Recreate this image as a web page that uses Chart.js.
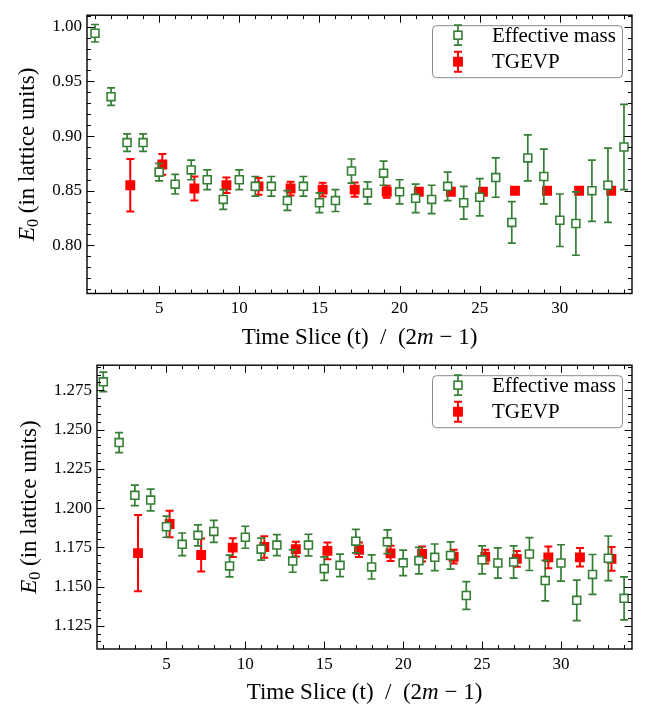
<!DOCTYPE html>
<html>
<head>
<meta charset="utf-8">
<script src="https://cdn.jsdelivr.net/npm/chart.js@4.4.1/dist/chart.umd.min.js"></script>
<style>
  body { margin: 0; background: #fff; }
  canvas { display: block; }
</style>
</head>
<body>
<canvas id="topChart" width="657" height="350"></canvas>
<canvas id="bottomChart" width="657" height="359"></canvas>
<script>
/* Two-panel E0 plateau plot: effective mass vs TGEVP */

// ─── Data: top panel ─────────────────────────────────────────────────────
const timeSlices = [1, 2, 3, 4, 5, 6, 7, 8, 9, 10, 11, 12, 13, 14, 15, 16, 17,
                    18, 19, 20, 21, 22, 23, 24, 25, 26, 27, 28, 29, 30, 31, 32, 33, 34];
const tgevpSlices = [3.2, 5.2, 7.2, 9.2, 11.2, 13.2, 15.2, 17.2, 19.2, 21.2, 23.2,
                     25.2, 27.2, 29.2, 31.2, 33.2];

const effMassTop = [0.994, 0.936, 0.894, 0.894, 0.867, 0.856, 0.869, 0.860, 0.842, 0.860,
                    0.854, 0.854, 0.841, 0.854, 0.839, 0.841, 0.868, 0.848, 0.866, 0.849,
                    0.843, 0.842, 0.854, 0.839, 0.844, 0.862, 0.821, 0.880, 0.863, 0.823,
                    0.820, 0.850, 0.855, 0.890];
const effMassErrTop = [0.008, 0.008, 0.008, 0.008, 0.008, 0.009, 0.009, 0.009, 0.009, 0.009,
                       0.009, 0.009, 0.009, 0.009, 0.009, 0.010, 0.011, 0.010, 0.011, 0.011,
                       0.013, 0.013, 0.013, 0.015, 0.017, 0.018, 0.019, 0.021, 0.025, 0.024,
                       0.029, 0.028, 0.034, 0.039];
const tgevpTop = [0.855, 0.874, 0.852, 0.855, 0.854, 0.852, 0.851, 0.851, 0.849, 0.849,
                  0.849, 0.849, 0.850, 0.850, 0.850, 0.850];
const tgevpErrTop = [0.024, 0.0095, 0.011, 0.007, 0.0077, 0.0063, 0.0063, 0.0066, 0.0055,
                     0.003, 0.003, 0.002, 0.002, 0.002, 0.002, 0.002];

// ─── Data: bottom panel ──────────────────────────────────────────────────
const effMassBot = [1.2804, 1.2417, 1.2081, 1.2051, 1.1881, 1.1769, 1.1826, 1.1851, 1.1631,
                    1.1814, 1.1738, 1.1764, 1.1662, 1.1764, 1.1614, 1.1635, 1.1789, 1.1625,
                    1.1785, 1.1651, 1.1665, 1.1686, 1.1698, 1.1443, 1.1670, 1.1650, 1.1656,
                    1.1707, 1.1538, 1.1650, 1.1412, 1.1577, 1.1680, 1.1425];
const effMassErrBot = [0.0062, 0.0064, 0.0065, 0.0069, 0.0067, 0.0072, 0.0067, 0.0070, 0.0069,
                       0.0070, 0.0070, 0.0067, 0.0071, 0.0069, 0.0075, 0.0072, 0.0075, 0.0077,
                       0.0076, 0.0081, 0.0084, 0.0085, 0.0087, 0.0088, 0.0089, 0.0096, 0.0103,
                       0.0105, 0.0129, 0.0116, 0.0129, 0.0127, 0.0142, 0.0137];
const tgevpBot = [1.1713, 1.1898, 1.1701, 1.1748, 1.1752, 1.1738, 1.1727, 1.1734, 1.1711,
                  1.1707, 1.1690, 1.1690, 1.1676, 1.1686, 1.1686, 1.1676];
const tgevpErrBot = [0.0243, 0.0084, 0.0105, 0.0060, 0.0069, 0.0047, 0.0053, 0.0046, 0.0048,
                     0.0048, 0.0044, 0.0044, 0.0050, 0.0069, 0.0059, 0.0076];

// ─── Tick labels ─────────────────────────────────────────────────────────
const xTickLabels = [5, 10, 15, 20, 25, 30];
const yTicksTop = [0.80, 0.85, 0.90, 0.95, 1.00];
const yTicksBot = [1.125, 1.150, 1.175, 1.200, 1.225, 1.250, 1.275];

const SERIF = "'Liberation Serif', 'DejaVu Serif', serif";
const GREEN = '#357f35';
const RED = '#ff0000';

const steps = (from, to, step) => {
    const out = [];
    for (let v = from; v <= to + step / 2; v += step) out.push(+v.toFixed(4));
    return out;
};

// ─── Error bars, drawn under each dataset's markers ──────────────────────
const errorBarPlugin = {
    id: 'errorBars',
    beforeDatasetDraw(chart, args) {
        const ds = chart.data.datasets[args.index];
        if (!ds.errors) return;
        const { x, y } = chart.scales;
        const ctx = chart.ctx;
        ctx.save();
        ctx.strokeStyle = ds.borderColor;
        ctx.lineWidth = ds.errLineWidth;
        ctx.beginPath();
        ds.data.forEach((p, i) => {
            const px = x.getPixelForValue(p.x);
            const hi = y.getPixelForValue(p.y + ds.errors[i]);
            const lo = y.getPixelForValue(p.y - ds.errors[i]);
            ctx.moveTo(px, hi); ctx.lineTo(px, lo);
            ctx.moveTo(px - 4, hi); ctx.lineTo(px + 4, hi);
            ctx.moveTo(px - 4, lo); ctx.lineTo(px + 4, lo);
        });
        ctx.stroke();
        ctx.restore();
    }
};

// ─── Frame + inward ticks on all four sides ──────────────────────────────
const frameTicksPlugin = {
    id: 'frameTicks',
    afterDatasetsDraw(chart, args, opts) {
        const { ctx, chartArea: a, scales: { x, y } } = chart;
        ctx.save();
        ctx.strokeStyle = '#000';
        ctx.lineWidth = 1;
        ctx.beginPath();
        const tickX = (v, len) => {
            const px = Math.round(x.getPixelForValue(v)) + 0.5;
            ctx.moveTo(px, a.bottom); ctx.lineTo(px, a.bottom - len);
            ctx.moveTo(px, a.top); ctx.lineTo(px, a.top + len);
        };
        const tickY = (v, len) => {
            const py = Math.round(y.getPixelForValue(v)) + 0.5;
            ctx.moveTo(a.left, py); ctx.lineTo(a.left + len, py);
            ctx.moveTo(a.right, py); ctx.lineTo(a.right - len, py);
        };
        opts.xMinor.forEach(v => tickX(v, 4));
        opts.xMajor.forEach(v => tickX(v, 7.5));
        opts.yMinor.forEach(v => { if (v > y.min && v < y.max) tickY(v, 4); });
        opts.yMajor.forEach(v => tickY(v, 7.5));
        ctx.stroke();
        ctx.lineWidth = 1.4;
        ctx.strokeRect(a.left, a.top, a.width, a.height);
        ctx.restore();
    }
};

// ─── Legend with error-bar glyphs ────────────────────────────────────────
const drawGlyph = (ctx, ds, cx, cy) => {
    ctx.strokeStyle = ds.borderColor;
    ctx.lineWidth = ds.errLineWidth;
    ctx.beginPath();
    ctx.moveTo(cx, cy - 10); ctx.lineTo(cx, cy + 10);
    ctx.moveTo(cx - 4, cy - 10); ctx.lineTo(cx + 4, cy - 10);
    ctx.moveTo(cx - 4, cy + 10); ctx.lineTo(cx + 4, cy + 10);
    ctx.stroke();
    const s = ds.pointRadius * Math.SQRT1_2;
    ctx.fillStyle = ds.backgroundColor;
    ctx.fillRect(cx - s, cy - s, 2 * s, 2 * s);
    if (ds.borderWidth) {
        ctx.lineWidth = ds.borderWidth;
        ctx.strokeRect(cx - s, cy - s, 2 * s, 2 * s);
    }
};

const legendPlugin = {
    id: 'errLegend',
    afterDraw(chart) {
        const { ctx, chartArea: a } = chart;
        const w = 190, h = 52;
        const left = a.right - 10 - w, top = a.top + 10;
        ctx.save();
        ctx.fillStyle = 'rgba(255,255,255,0.85)';
        ctx.strokeStyle = '#8a8a8a';
        ctx.lineWidth = 1;
        ctx.beginPath();
        ctx.roundRect(left + 0.5, top + 0.5, w, h, 4);
        ctx.fill();
        ctx.stroke();
        chart.data.datasets.forEach((ds, i) => {
            const cy = top + 10 + i * 26.5;
            drawGlyph(ctx, ds, left + 26, cy);
            ctx.fillStyle = '#000';
            ctx.font = `21px ${SERIF}`;
            ctx.textBaseline = 'middle';
            ctx.fillText(ds.label, left + 60, cy + 1);
        });
        ctx.restore();
    }
};

// ─── Axis titles with italic math parts ──────────────────────────────────
const drawRich = (ctx, segs, cx, baseline) => {
    let total = 0;
    segs.forEach(s => { ctx.font = s.font; s.w = ctx.measureText(s.text).width; total += s.w; });
    let pos = cx - total / 2;
    segs.forEach(s => {
        ctx.font = s.font;
        ctx.fillText(s.text, pos, baseline + (s.dy || 0));
        pos += s.w;
    });
};

const titlesPlugin = {
    id: 'axisTitles',
    afterDraw(chart, args, opts) {
        const { ctx, chartArea: a } = chart;
        ctx.save();
        ctx.fillStyle = '#000';
        ctx.textBaseline = 'alphabetic';
        const up = `23px ${SERIF}`, it = `italic 23px ${SERIF}`;
        drawRich(ctx, [
            { text: 'Time Slice (t)  /  (2', font: up },
            { text: 'm', font: it },
            { text: ' \u2212 1)', font: up }
        ], (a.left + a.right) / 2, a.bottom + 50);

        ctx.translate(opts.yTitleX, (a.top + a.bottom) / 2);
        ctx.rotate(-Math.PI / 2);
        drawRich(ctx, [
            { text: 'E', font: it },
            { text: '0', font: `16px ${SERIF}`, dy: 4 },
            { text: ' (in lattice units)', font: up }
        ], 0, 0);
        ctx.restore();
    }
};

// ─── Chart factory ───────────────────────────────────────────────────────
const makePanel = (canvasId, p) => {
    const toPoints = (xs, ys) => xs.map((x, i) => ({ x, y: ys[i] }));
    return new Chart(document.getElementById(canvasId), {
        type: 'scatter',
        data: {
            datasets: [{
                label: 'Effective mass',
                data: toPoints(timeSlices, p.eff),
                errors: p.effErr,
                errLineWidth: 1.7,
                pointStyle: 'rect',
                pointRadius: 5.6,
                borderWidth: 1.6,
                borderColor: GREEN,
                backgroundColor: '#ffffff'
            }, {
                label: 'TGEVP',
                data: toPoints(tgevpSlices, p.tgevp),
                errors: p.tgevpErr,
                errLineWidth: 2,
                pointStyle: 'rect',
                pointRadius: 7,
                borderWidth: 0,
                borderColor: RED,
                backgroundColor: RED
            }]
        },
        options: {
            responsive: false,
            devicePixelRatio: 1,
            animation: false,
            events: [],
            layout: { padding: { top: p.padTop, right: 25, left: 0, bottom: 0 } },
            scales: {
                x: {
                    type: 'linear',
                    min: p.xMin, max: 34.5,
                    grid: { display: false, drawTicks: false },
                    border: { display: false },
                    afterBuildTicks: s => { s.ticks = xTickLabels.map(v => ({ value: v })); },
                    afterFit: s => { s.height = p.xAxisHeight; },
                    ticks: {
                        padding: 5,
                        color: '#000',
                        font: { family: SERIF, size: 17 },
                        callback: v => String(v)
                    }
                },
                y: {
                    type: 'linear',
                    min: p.yMin, max: p.yMax,
                    grid: { display: false, drawTicks: false },
                    border: { display: false },
                    afterBuildTicks: s => { s.ticks = p.yTicks.map(v => ({ value: v })); },
                    afterFit: s => { s.width = p.yAxisWidth; },
                    ticks: {
                        padding: 5,
                        color: '#000',
                        font: { family: SERIF, size: 17 },
                        callback: v => v.toFixed(p.decimals)
                    }
                }
            },
            plugins: {
                legend: { display: false },
                tooltip: { enabled: false },
                frameTicks: {
                    xMajor: xTickLabels,
                    xMinor: steps(1, 34, 1),
                    yMajor: p.yTicks,
                    yMinor: p.yMinor
                },
                axisTitles: { yTitleX: p.yTitleX }
            }
        },
        plugins: [errorBarPlugin, frameTicksPlugin, legendPlugin, titlesPlugin]
    });
};

makePanel('topChart', {
    eff: effMassTop, effErr: effMassErrTop, tgevp: tgevpTop, tgevpErr: tgevpErrTop,
    xMin: 0.5, yMin: 0.756, yMax: 1.0105, yTicks: yTicksTop, yMinor: steps(0.76, 1.01, 0.01),
    decimals: 2, padTop: 2, xAxisHeight: 56.5, yAxisWidth: 87, yTitleX: 34
});

makePanel('bottomChart', {
    eff: effMassBot, effErr: effMassErrBot, tgevp: tgevpBot, tgevpErr: tgevpErrBot,
    xMin: 0.6, yMin: 1.1102, yMax: 1.291, yTicks: yTicksBot, yMinor: steps(1.115, 1.290, 0.005),
    decimals: 3, padTop: 6, xAxisHeight: 60, yAxisWidth: 97, yTitleX: 36
});
</script>
</body>
</html>
